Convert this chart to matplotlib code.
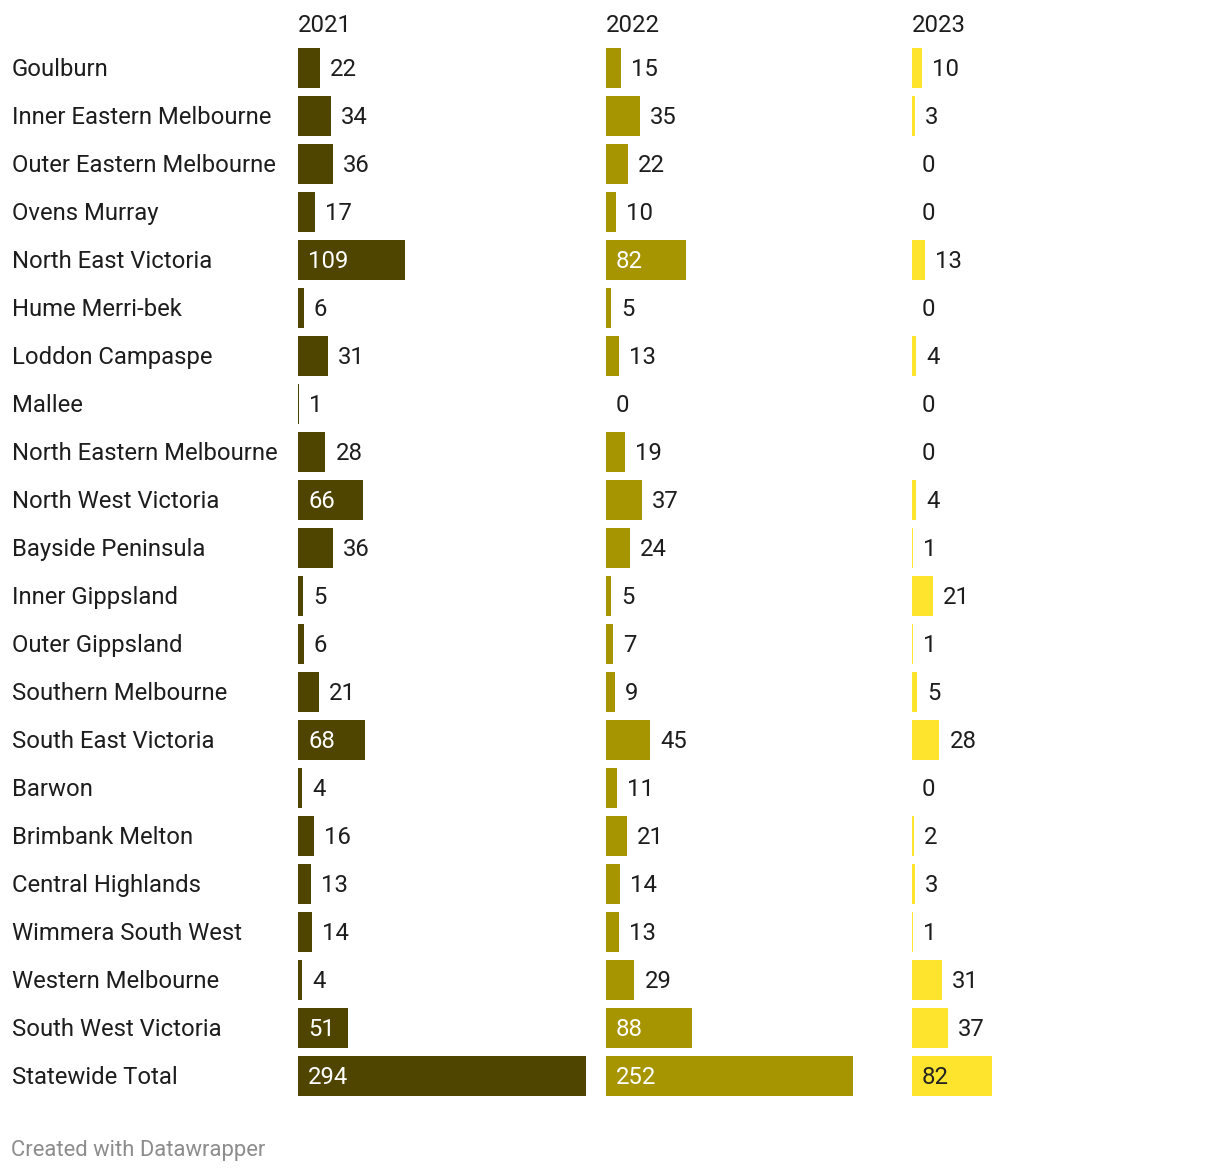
import matplotlib
matplotlib.use("Agg")
import matplotlib.pyplot as plt

plt.rcParams['font.family'] = ['Roboto', 'DejaVu Sans']

regions = ["Goulburn", "Inner Eastern Melbourne", "Outer Eastern Melbourne", "Ovens Murray",
           "North East Victoria", "Hume Merri-bek", "Loddon Campaspe", "Mallee",
           "North Eastern Melbourne", "North West Victoria", "Bayside Peninsula",
           "Inner Gippsland", "Outer Gippsland", "Southern Melbourne", "South East Victoria",
           "Barwon", "Brimbank Melton", "Central Highlands", "Wimmera South West",
           "Western Melbourne", "South West Victoria", "Statewide Total"]
years = ["2021", "2022", "2023"]
v2021 = [22, 34, 36, 17, 109, 6, 31, 1, 28, 66, 36, 5, 6, 21, 68, 4, 16, 13, 14, 4, 51, 294]
v2022 = [15, 35, 22, 10, 82, 5, 13, 0, 19, 37, 24, 5, 7, 9, 45, 11, 21, 14, 13, 29, 88, 252]
v2023 = [10, 3, 0, 0, 13, 0, 4, 0, 0, 4, 1, 21, 1, 5, 28, 0, 2, 3, 1, 31, 37, 82]
series = [v2021, v2022, v2023]
colors = ["#4f4500", "#a69500", "#ffe42e"]
inside_text = ["white", "white", "#222222"]

W, H = 1220, 1172
fig = plt.figure(figsize=(W / 100, H / 100), dpi=100)

n = len(regions)
pitch = 48
top = 68 - pitch / 2
bottom = top + pitch * n
col_left = [298, 606, 912]
col_w = 290
px_per_unit = 288 / 294
fs = 17.2
txt = "#1d1d1d"
dy = -1.0 / pitch  # nudge text up by one pixel

for ci, (vals, col) in enumerate(zip(series, colors)):
    ax = fig.add_axes([col_left[ci] / W, 1 - bottom / H, col_w / W, (bottom - top) / H])
    ax.set_xlim(0, col_w / px_per_unit)
    ax.set_ylim(n - 0.5, -0.5)
    ax.axis("off")
    ys = list(range(n))
    ax.barh(ys, vals, height=40 / 48, color=col, left=0)
    pad = 10 / px_per_unit
    for y, v in zip(ys, vals):
        if v >= 48:
            ax.text(pad, y + dy, str(v), ha="left", va="center_baseline", fontsize=fs,
                    color=inside_text[ci])
        else:
            ax.text(v + pad, y + dy, str(v), ha="left", va="center_baseline", fontsize=fs,
                    color=txt)
    ax.text(0, -0.94, years[ci], ha="left", va="center_baseline", fontsize=fs, color=txt)

for i, r in enumerate(regions):
    fig.text(12 / W, 1 - (67 + pitch * i) / H, r, ha="left", va="center_baseline",
             fontsize=fs, color=txt)

fig.text(11 / W, 1 - 1148 / H, "Created with Datawrapper", ha="left",
         va="center_baseline", fontsize=15.8, color="#8c8c8c")

fig.savefig("out.png", dpi=100, facecolor="white")
